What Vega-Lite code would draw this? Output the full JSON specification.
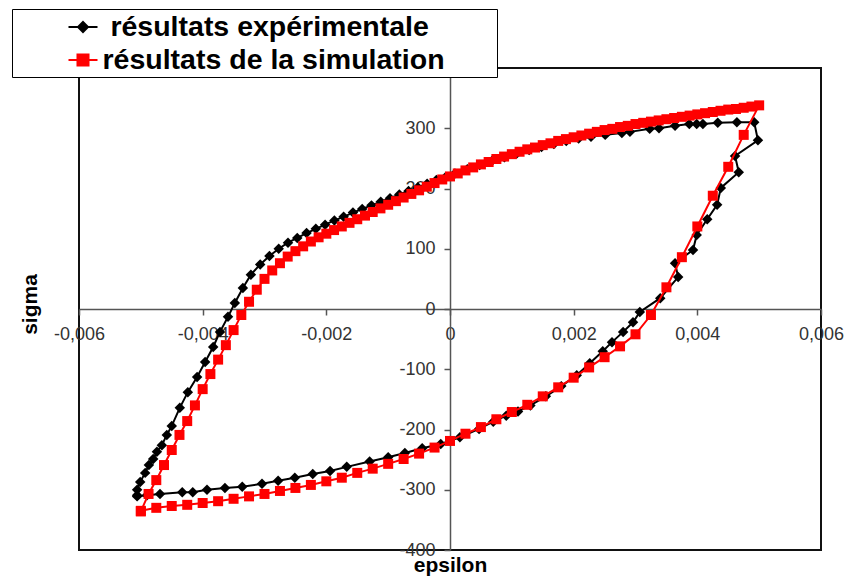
{
  "$schema": "https://vega.github.io/schema/vega-lite/v6.json",
  "width": 742,
  "height": 482,
  "autosize": {"type": "none"},
  "padding": {"left": 79, "top": 68, "right": 45, "bottom": 32},
  "background": "white",
  "config": {"view": {"stroke": "#111", "strokeWidth": 2}},
  "datasets": {
    "exp": [
      [-5.06,-309],[-5.06,-300],[-5.01,-287],[-4.93,-272],[-4.87,-259],[-4.80,-249],[-4.74,-237],[-4.66,-226],[-4.58,-209],[-4.50,-194],
      [-4.37,-164],[-4.24,-138],[-4.09,-113],[-3.96,-88],[-3.83,-63],[-3.72,-38],[-3.59,-13],[-3.48,10],[-3.35,35],[-3.22,57],
      [-3.07,74],[-2.92,88],[-2.77,100],[-2.62,110],[-2.47,118],[-2.32,126],[-2.17,133],[-2.02,140],[-1.87,147],[-1.72,153],
      [-1.57,160],[-1.42,166],[-1.27,172],[-1.12,178],[-0.97,184],[-0.82,190],[-0.67,196],[-0.52,202],[-0.37,208],[-0.22,214],
      [-0.07,219],[0.08,225],[0.28,232],[0.48,239],[0.68,246],[0.88,252],[1.08,258],[1.28,264],[1.48,269],[1.68,274],
      [1.88,279],[2.08,283],[2.28,286],[2.51,289],[2.78,292],[2.91,294],[3.23,299],[3.38,300],[3.64,304],[3.87,307],
      [3.99,307],[4.09,307],[4.33,309],[4.64,310],[4.92,310],[4.98,280],[4.61,254],[4.67,227],[4.38,201],[4.32,173],
      [4.16,149],[3.99,123],[3.93,98],[3.64,76],[3.69,53],[3.40,18],[3.07,-5],[2.96,-22],[2.80,-38],[2.62,-55],
      [2.47,-70],[2.26,-90],[2.05,-110],[1.80,-128],[1.55,-145],[1.30,-160],[1.10,-170],[0.91,-177],[0.70,-187],[0.47,-199],
      [0.16,-213],[-0.15,-224],[-0.45,-231],[-0.73,-239],[-1.00,-246],[-1.30,-253],[-1.67,-262],[-1.94,-269],[-2.22,-274],[-2.51,-280],
      [-2.78,-285],[-3.04,-290],[-3.36,-295],[-3.64,-297],[-3.93,-300],[-4.16,-304],[-4.33,-304],[-4.69,-307],[-4.90,-309],[-5.06,-311]
    ],
    "sim": [
      [-5.0,-336],[-4.875,-307],[-4.75,-284],[-4.625,-259],[-4.5,-234],[-4.375,-209],[-4.25,-186],[-4.125,-160],[-4.0,-133],[-3.875,-108],
      [-3.75,-84],[-3.625,-60],[-3.5,-35],[-3.375,-10],[-3.25,12],[-3.125,32],[-3.0,50],[-2.875,64],[-2.75,76],[-2.625,87],
      [-2.5,96],[-2.375,104],[-2.25,112],[-2.125,119],[-2.0,125],[-1.875,131],[-1.75,137],[-1.625,143],[-1.5,149],[-1.375,155],
      [-1.25,161],[-1.125,167],[-1.0,173],[-0.875,179],[-0.75,185],[-0.625,191],[-0.5,197],[-0.375,203],[-0.25,209],[-0.125,215],
      [0,220],[0.125,225],[0.25,230],[0.375,235],[0.5,240],[0.625,244],[0.75,249],[0.875,253],[1.0,257],[1.125,261],
      [1.25,265],[1.375,268],[1.5,272],[1.625,275],[1.75,279],[1.875,282],[2.0,285],[2.125,288],[2.25,291],[2.375,294],
      [2.5,297],[2.625,299],[2.75,302],[2.875,304],[3.0,307],[3.125,309],[3.25,311],[3.375,313],[3.5,315],[3.625,317],
      [3.75,319],[3.875,321],[4.0,323],[4.125,325],[4.25,327],[4.375,329],[4.5,331],[4.625,332],[4.75,334],[4.875,336],
      [5.0,338],
      [4.75,289],[4.5,236],[4.25,188],[4.0,137],[3.75,86],[3.5,36],[3.25,-10],[3.0,-42],[2.75,-62],[2.5,-80],
      [2.25,-97],[2.0,-114],[1.75,-130],[1.5,-145],[1.25,-159],[1.0,-171],[0.75,-183],[0.5,-196],[0.25,-207],[0,-219],
      [-0.25,-230],[-0.5,-240],[-0.75,-249],[-1.0,-257],[-1.25,-265],[-1.5,-272],[-1.75,-280],[-2.0,-286],[-2.25,-292],[-2.5,-297],
      [-2.75,-302],[-3.0,-307],[-3.25,-311],[-3.5,-315],[-3.75,-319],[-4.0,-322],[-4.25,-325],[-4.5,-327],[-4.75,-330],[-5.0,-335]
    ]
  },
  "layer": [
    {
      "data": {"values": [{}]},
      "mark": {"type": "rule", "color": "black", "strokeWidth": 3.5, "clip": false},
      "encoding": {
        "x": {"datum": -0.0071, "type": "quantitative", "scale": {"domain": [-0.006, 0.006], "nice": false, "zero": false}},
        "y": {"datum": 501, "type": "quantitative", "scale": {"domain": [-400, 400], "nice": false, "zero": false}},
        "y2": {"datum": -455}
      }
    },
    {
      "data": {"values": [{}]},
      "mark": {"type": "rule", "color": "black", "strokeWidth": 3.5, "clip": false},
      "encoding": {
        "x": {"datum": -0.0071, "type": "quantitative", "scale": {"domain": [-0.006, 0.006], "nice": false, "zero": false}},
        "x2": {"datum": 0.0068},
        "y": {"datum": 501, "type": "quantitative", "scale": {"domain": [-400, 400], "nice": false, "zero": false}}
      }
    },
    {
      "data": {"name": "exp"},
      "transform": [
        {"calculate": "'résultats expérimentale'", "as": "serie"},
        {"window": [{"op": "row_number", "as": "i"}]},
        {"calculate": "datum[0] / 1000", "as": "epsilon"},
        {"calculate": "datum[1]", "as": "sigma"}
      ],
      "layer": [
        {"mark": {"type": "line", "strokeWidth": 2}},
        {"mark": {"type": "point", "shape": "diamond", "filled": true, "size": 110, "opacity": 1}}
      ],
      "encoding": {
        "x": {"field": "epsilon", "type": "quantitative", "scale": {"domain": [-0.006, 0.006], "nice": false, "zero": false}},
        "y": {"field": "sigma", "type": "quantitative", "scale": {"domain": [-400, 400], "nice": false, "zero": false}},
        "order": {"field": "i", "type": "quantitative"},
        "color": {"field": "serie", "type": "nominal"}
      }
    },
    {
      "data": {"name": "sim"},
      "transform": [
        {"calculate": "'résultats de la simulation'", "as": "serie"},
        {"window": [{"op": "row_number", "as": "i"}]},
        {"calculate": "datum[0] / 1000", "as": "epsilon"},
        {"calculate": "datum[1]", "as": "sigma"}
      ],
      "layer": [
        {"mark": {"type": "line", "strokeWidth": 2}},
        {"mark": {"type": "point", "shape": "square", "filled": true, "size": 100, "opacity": 1}}
      ],
      "encoding": {
        "x": {"field": "epsilon", "type": "quantitative", "scale": {"domain": [-0.006, 0.006], "nice": false, "zero": false}},
        "y": {"field": "sigma", "type": "quantitative", "scale": {"domain": [-400, 400], "nice": false, "zero": false}},
        "order": {"field": "i", "type": "quantitative"},
        "color": {"field": "serie", "type": "nominal"}
      }
    }
  ],
  "resolve": {"scale": {"color": "shared"}},
  "encoding": {
    "x": {
      "field": "epsilon", "type": "quantitative",
      "axis": {
        "orient": "bottom", "offset": -241,
        "values": [-0.006, -0.004, -0.002, 0, 0.002, 0.004, 0.006],
        "labelExpr": "datum.value == 0 ? '0' : (datum.value < 0 ? '-' : '') + replace(format(abs(datum.value), '.3f'), '.', ',')",
        "domainColor": "#555", "domainWidth": 1.5, "tickColor": "#555", "tickWidth": 1.5, "tickSize": 6,
        "labelFont": "Liberation Sans", "labelFontSize": 18, "labelColor": "#333", "labelPadding": 10,
        "labelFlush": false, "labelOverlap": false, "labelBound": false, "grid": false,
        "title": "epsilon", "titleFont": "Liberation Sans", "titleFontSize": 21, "titleFontWeight": "bold", "titleColor": "black",
        "titleX": 371, "titleY": 256, "titleBaseline": "middle", "titleAlign": "center", "titleAnchor": null
      }
    },
    "y": {
      "field": "sigma", "type": "quantitative",
      "axis": {
        "orient": "left", "offset": -371,
        "values": [-400, -300, -200, -100, 0, 100, 200, 300],
        "labelExpr": "(datum.value < 0 ? '-' : '') + format(abs(datum.value), 'd')",
        "domainColor": "#555", "domainWidth": 1.5, "tickColor": "#555", "tickWidth": 1.5, "tickSize": 6,
        "labelFont": "Liberation Sans", "labelFontSize": 18, "labelColor": "#333", "labelPadding": 9,
        "labelFlush": false, "labelOverlap": false, "labelBound": false, "grid": false,
        "title": "sigma", "titleFont": "Liberation Sans", "titleFontSize": 21, "titleFontWeight": "bold", "titleColor": "black",
        "titleX": -420, "titleY": 236, "titleAngle": 270, "titleBaseline": "middle", "titleAlign": "center", "titleAnchor": null
      }
    },
    "color": {
      "field": "serie", "type": "nominal",
      "scale": {"domain": ["résultats expérimentale", "résultats de la simulation"], "range": ["black", "#ff0000"]},
      "legend": {
        "title": null, "orient": "none", "legendX": -67, "legendY": -59,
        "padding": 2.5, "rowPadding": 3, "fillColor": "white", "strokeColor": "black",
        "symbolSize": 841, "symbolOffset": 53, "labelOffset": 4,
        "labelFont": "Liberation Sans", "labelFontSize": 28.5, "labelFontWeight": "bold", "labelColor": "black", "labelLimit": 800,
        "encode": {
          "labels": {
            "update": {
              "text": {"signal": "'\u200b' + (datum.label == 'résultats expérimentale' ? '\u00a0' : '') + datum.label + '\u00a0\u00a0\u00a0\u00a0\u00a0\u00a0\u200a\u200b'"}
            }
          },
          "symbols": {
            "update": {
              "shape": {"signal": "datum.value == 'résultats expérimentale' ? 'M-1,0L1,0M0,-0.345L0.345,0L0,0.345L-0.345,0Z' : 'M-1,0L1,0M-0.38,-0.38L0.38,-0.38L0.38,0.38L-0.38,0.38Z'"},
              "fill": {"scale": "color", "field": "value"},
              "stroke": {"scale": "color", "field": "value"},
              "strokeWidth": {"value": 2},
              "size": {"value": 841},
              "opacity": {"value": 1}
            }
          }
        }
      }
    }
  }
}
